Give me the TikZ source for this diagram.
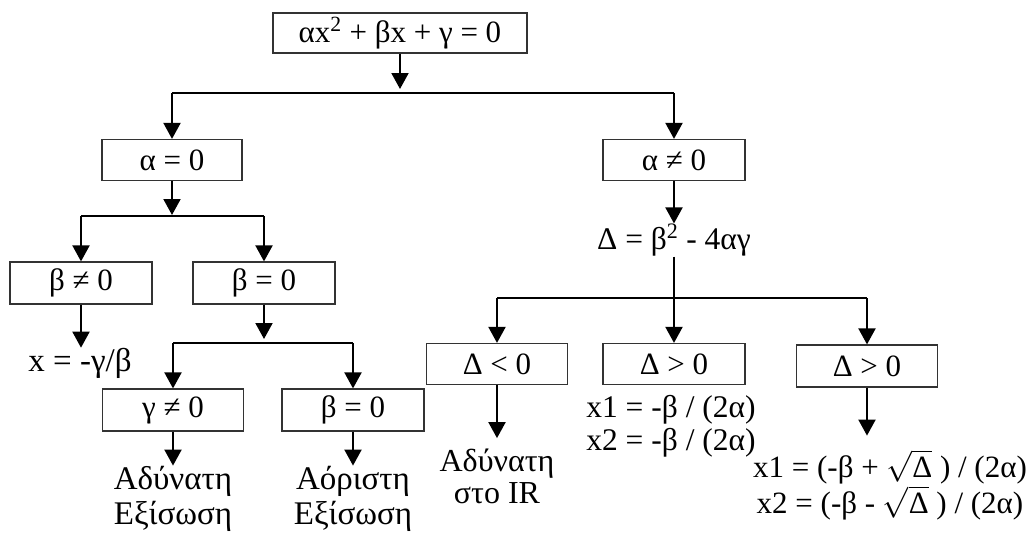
\RequirePackage{fix-cm}
\documentclass[tikz,border=0pt]{standalone}
\usepackage{fontspec}
\setmainfont{Liberation Serif}
\usetikzlibrary{arrows.meta}
\begin{document}
\begin{tikzpicture}[x=1pt,y=-1pt,
  box/.style={draw=black!80,line width=1.2pt,inner sep=0pt,minimum height=41pt,font=\fontsize{31}{36}\selectfont},
  lbl/.style={inner sep=0pt,align=center,font=\fontsize{31.5}{33}\selectfont},
  biglbl/.style={inner sep=0pt,align=center,font=\fontsize{33}{35}\selectfont},
  arr/.style={line width=2pt,-{Triangle[width=17pt,length=16pt]}},
  ln/.style={line width=2pt}]
\useasboundingbox (0,0) rectangle (1026,536);
% boxes
\node[box,minimum width=254pt,minimum height=40pt] (top) at (400,33) {αx\textsuperscript{2} + βx + γ = 0};
\node[box,minimum width=140pt] (a0) at (172,160) {α = 0};
\node[box,minimum width=142pt] (an) at (674,160) {α ≠ 0};
\node[lbl] (delta) at (674,240) {Δ = β\textsuperscript{2} - 4αγ};
\node[box,minimum width=142pt,minimum height=42pt] (bn) at (81,283) {β ≠ 0};
\node[box,minimum width=142pt,minimum height=42pt] (b0) at (264,283) {β = 0};
\node[biglbl] (xsol) at (80,363) {x = -γ/β};
\node[box,minimum width=141pt,minimum height=42pt] (gn) at (173,410) {γ ≠ 0};
\node[box,minimum width=142pt,minimum height=42pt] (b02) at (353,410) {β = 0};
\node[biglbl] (adyn) at (173,499) {Αδύνατη\\Εξίσωση};
\node[biglbl] (aor) at (353,499) {Αόριστη\\Εξίσωση};
\node[box,minimum width=141pt] (dl) at (497,364) {Δ < 0};
\node[box,minimum width=142pt] (dg) at (674,364) {Δ > 0};
\node[box,minimum width=141pt,minimum height=42pt] (dg2) at (867,366) {Δ > 0};
\node[lbl,font=\fontsize{32}{32}\selectfont] (adyn2) at (497,476) {Αδύνατη\\στο IR};
\node[lbl] (x12) at (671,426.5) {x1 = -β / (2α)\\x2 = -β / (2α)};
\node[lbl,font=\fontsize{31}{36}\selectfont] (x12b) at (890,485) {x1 = (-β + $\sqrt{\hbox{Δ}}$ ) / (2α)\\x2 = (-β - $\sqrt{\hbox{Δ}}$ ) / (2α)};
% junction coordinates
\coordinate (t1) at (400,89);
\coordinate (h1) at (400,93);
\coordinate (t2) at (172,215);
\coordinate (h2) at (172,216);
\coordinate (t3) at (264,339);
\coordinate (h3) at (264,343);
\coordinate (h4) at (674,298);
% connectors
\draw[arr] (top.south) -- (t1);
\draw[ln] (a0.north |- h1) -- (an.north |- h1);
\draw[arr] (a0.north |- h1) -- (a0.north);
\draw[arr] (an.north |- h1) -- (an.north);
\draw[arr] (a0.south) -- (t2);
\draw[ln] (bn.north |- h2) -- (b0.north |- h2);
\draw[arr] (bn.north |- h2) -- (bn.north);
\draw[arr] (b0.north |- h2) -- (b0.north);
\draw[arr] (bn.south) -- (bn.south |- xsol.north);
\draw[arr] (b0.south) -- (t3);
\draw[ln] (gn.north |- h3) -- (b02.north |- h3);
\draw[arr] (gn.north |- h3) -- (gn.north);
\draw[arr] (b02.north |- h3) -- (b02.north);
\draw[arr] (gn.south) -- ++(0,34);
\draw[arr] (b02.south) -- ++(0,34);
\draw[arr] (an.south) -- (an.south |- delta.north);
\draw[ln] (dl.north |- h4) -- (dg2.north |- h4);
\draw[arr] (delta.south) -- (dg.north);
\draw[arr] (dl.north |- h4) -- (dl.north);
\draw[arr] (dg2.north |- h4) -- (dg2.north);
\draw[arr] (dl.south) -- ++(0,53);
\draw[arr] (dg2.south) -- ++(0,48);
\end{tikzpicture}
\end{document}
